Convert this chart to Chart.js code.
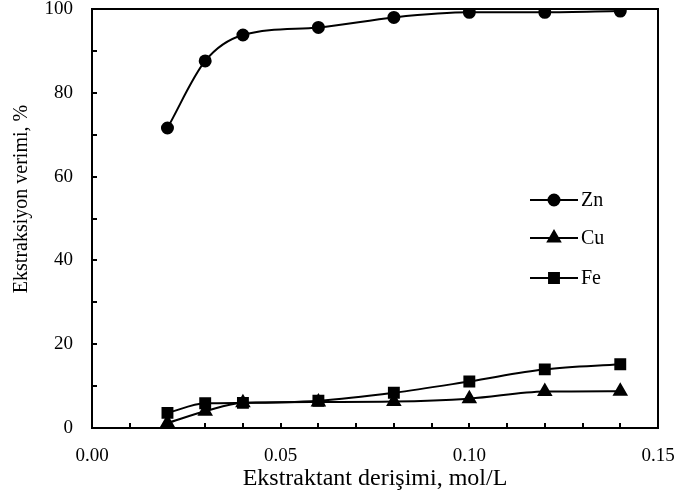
<!DOCTYPE html>
<html>
<head>
<meta charset="utf-8">
<script src="https://cdn.jsdelivr.net/npm/chart.js@4.4.1/dist/chart.umd.min.js"></script>
<style>
  html, body { margin: 0; padding: 0; background: #fff; }
  #wrap { width: 677px; height: 499px; }
</style>
</head>
<body>
<div id="wrap"><canvas id="c" width="677" height="499"></canvas></div>
<script>
// Extractant concentration (mol/L)
const concentrations = [0.02, 0.03, 0.04, 0.06, 0.08, 0.10, 0.12, 0.14];
// Extraction efficiency (%)
const zn = [71.6, 87.6, 93.8, 95.6, 98.0, 99.2, 99.2, 99.5];
const cu = [1.2, 4.0, 6.0, 6.2, 6.3, 7.0, 8.7, 8.8];
const fe = [3.6, 5.9, 6.0, 6.5, 8.4, 11.1, 14.0, 15.2];

const xTicks = [0, 0.05, 0.10, 0.15];
const yTicks = [0, 20, 40, 60, 80, 100];
const xMinorTicks = [0.01, 0.02, 0.03, 0.04, 0.06, 0.07, 0.08, 0.09, 0.11, 0.12, 0.13, 0.14];
const yMinorTicks = [10, 30, 50, 70, 90];

const yTitle = 'Ekstraksiyon verimi, %';
const xTitle = 'Ekstraktant derişimi, mol/L';

const serif = "'Liberation Serif', 'Times New Roman', serif";

function pts(ys) { return concentrations.map((x, i) => ({ x, y: ys[i] })); }

function series(label, ys, style, radius) {
  return {
    label,
    data: pts(ys),
    borderColor: '#000',
    backgroundColor: '#000',
    borderWidth: 2,
    pointStyle: style,
    pointRadius: radius,
    pointHoverRadius: radius,
    pointBackgroundColor: '#000',
    pointBorderColor: '#000',
    tension: 0.35,
    cubicInterpolationMode: 'monotone',
    fill: false
  };
}

// Inward major/minor ticks, the box frame, the y title and the in-plot legend
const framePlugin = {
  id: 'frame',
  afterDatasetsDraw(chart) {
    const { ctx, chartArea: a, scales } = chart;
    ctx.save();
    ctx.strokeStyle = '#000';
    ctx.lineWidth = 2;
    ctx.strokeRect(a.left, a.top, a.right - a.left, a.bottom - a.top);

    const xs = scales.x, ys = scales.y;
    ctx.beginPath();
    xTicks.concat(xMinorTicks).forEach(v => {
      const px = Math.round(xs.getPixelForValue(v));
      ctx.moveTo(px, a.bottom);
      ctx.lineTo(px, a.bottom - 5);
    });
    yTicks.concat(yMinorTicks).forEach(v => {
      const py = Math.round(ys.getPixelForValue(v));
      ctx.moveTo(a.left, py);
      ctx.lineTo(a.left + 5, py);
    });
    ctx.stroke();

    // y axis title
    ctx.fillStyle = '#000';
    ctx.font = '20px ' + serif;
    ctx.textAlign = 'center';
    ctx.textBaseline = 'middle';
    ctx.save();
    ctx.translate(22, 199);
    ctx.rotate(-Math.PI / 2);
    ctx.fillText(yTitle, 0, 0);
    ctx.restore();

    // legend
    const items = chart.data.datasets;
    const lx0 = 530, lx1 = 578, ly = [200, 238, 278];
    ctx.textAlign = 'left';
    items.forEach((ds, i) => {
      ctx.lineWidth = 2;
      ctx.beginPath();
      ctx.moveTo(lx0, ly[i]);
      ctx.lineTo(lx1, ly[i]);
      ctx.stroke();
      Chart.helpers.drawPoint(ctx, {
        pointStyle: ds.pointStyle, radius: ds.pointRadius, borderWidth: 1
      }, (lx0 + lx1) / 2, ly[i]);
      ctx.fill();
      ctx.fillText(ds.label, lx1 + 3, ly[i] + 1);
    });
    ctx.restore();
  }
};

new Chart(document.getElementById('c'), {
  type: 'line',
  data: {
    datasets: [
      series('Zn', zn, 'circle', 5.5),
      series('Cu', cu, 'triangle', 7),
      series('Fe', fe, 'rect', 7)
    ]
  },
  options: {
    responsive: false,
    animation: false,
    layout: { padding: { top: 5, right: 19, left: 0, bottom: 0 } },
    plugins: {
      legend: { display: false },
      tooltip: { enabled: false }
    },
    scales: {
      x: {
        type: 'linear',
        min: 0,
        max: 0.15,
        afterBuildTicks(s) { s.ticks = xTicks.map(v => ({ value: v })); },
        afterFit(s) { s.height = 71; s.paddingLeft = 0; s.paddingRight = 0; },
        grid: { display: false, drawTicks: false },
        border: { display: false },
        ticks: {
          color: '#000',
          padding: 17,
          font: { family: serif, size: 19 },
          callback: v => v.toFixed(2),
          maxRotation: 0
        },
        title: {
          display: true,
          text: xTitle,
          color: '#000',
          font: { family: serif, size: 24 },
          padding: { top: 0, bottom: 6 }
        }
      },
      y: {
        min: 0,
        max: 100,
        afterBuildTicks(s) { s.ticks = yTicks.map(v => ({ value: v })); },
        afterFit(s) { s.width = 92; s.paddingTop = 0; s.paddingBottom = 0; },
        grid: { display: false, drawTicks: false },
        border: { display: false },
        ticks: {
          color: '#000',
          padding: 19,
          font: { family: serif, size: 19 }
        },
        title: { display: false }
      }
    }
  },
  plugins: [framePlugin]
});
</script>
</body>
</html>
